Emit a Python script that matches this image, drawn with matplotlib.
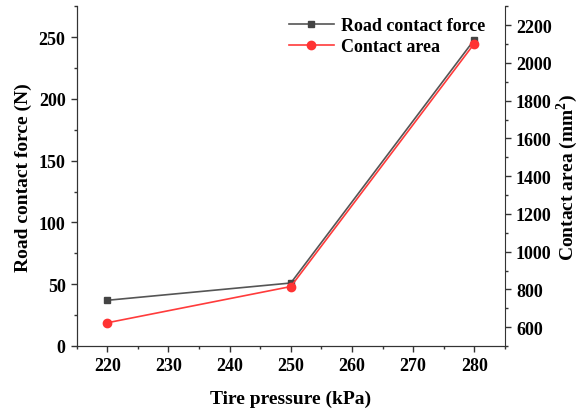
import matplotlib
matplotlib.use('Agg')
import matplotlib.pyplot as plt
from matplotlib.ticker import MultipleLocator

plt.rcParams['font.family'] = ['Liberation Serif', 'DejaVu Serif']
plt.rcParams['font.weight'] = 'bold'
plt.rcParams['mathtext.fontset'] = 'custom'
plt.rcParams['mathtext.bf'] = 'Liberation Serif:bold'
plt.rcParams['mathtext.rm'] = 'Liberation Serif:bold'

pressure = [220, 250, 280]
force = [37, 51, 248]
area = [623, 815, 2103]

fig = plt.figure(figsize=(5.79, 4.10), dpi=100)
ax = fig.add_axes([0.1325, 0.1537, 0.7395, 0.8283])
ax2 = ax.twinx()

l1, = ax.plot(pressure, force, color='#555555', lw=1.2, marker='s', ms=5,
              mfc='#444444', mec='#444444', label='Road contact force')
l2, = ax2.plot(pressure, area, color='#ff3b3b', lw=1.2, marker='o', ms=6,
               mfc='#ff3333', mec='#ff3333', label='Contact area')

ax.set_xlim(215, 285)
ax.set_ylim(0, 275)
ax2.set_ylim(500, 2300)

ax.xaxis.set_major_locator(MultipleLocator(10))
ax.xaxis.set_minor_locator(MultipleLocator(5))
ax.yaxis.set_major_locator(MultipleLocator(50))
ax.yaxis.set_minor_locator(MultipleLocator(25))
ax2.yaxis.set_major_locator(MultipleLocator(200))
ax2.yaxis.set_minor_locator(MultipleLocator(100))

for a in (ax, ax2):
    a.spines['top'].set_visible(False)
    for s in a.spines.values():
        s.set_color('#333333')
    a.tick_params(which='major', direction='out', length=4.5, width=1, labelsize=13, colors='#333333', labelcolor='black')
    a.tick_params(which='minor', direction='out', length=2.5, width=1, colors='#333333')
ax.spines['right'].set_visible(False)

ax.set_xlabel('Tire pressure (kPa)', fontsize=14, fontweight='bold', labelpad=11)
ax.set_ylabel('Road contact force (N)', fontsize=14, fontweight='bold', labelpad=5)
ax2.set_ylabel('Contact area (mm$^{2}$)', fontsize=14, fontweight='bold', labelpad=2)

leg = ax.legend(handles=[l1, l2], loc='upper left', bbox_to_anchor=(0.47, 1.0),
                frameon=False, fontsize=13, handlelength=2.5, borderaxespad=0.2,
                labelspacing=0.2, handletextpad=0.4)
for t in leg.get_texts():
    t.set_fontweight('bold')

fig.canvas.draw()
for a in (ax, ax2):
    for lab in a.get_xticklabels() + a.get_yticklabels():
        lab.set_fontweight('bold')

fig.savefig('out.png', dpi=100)
